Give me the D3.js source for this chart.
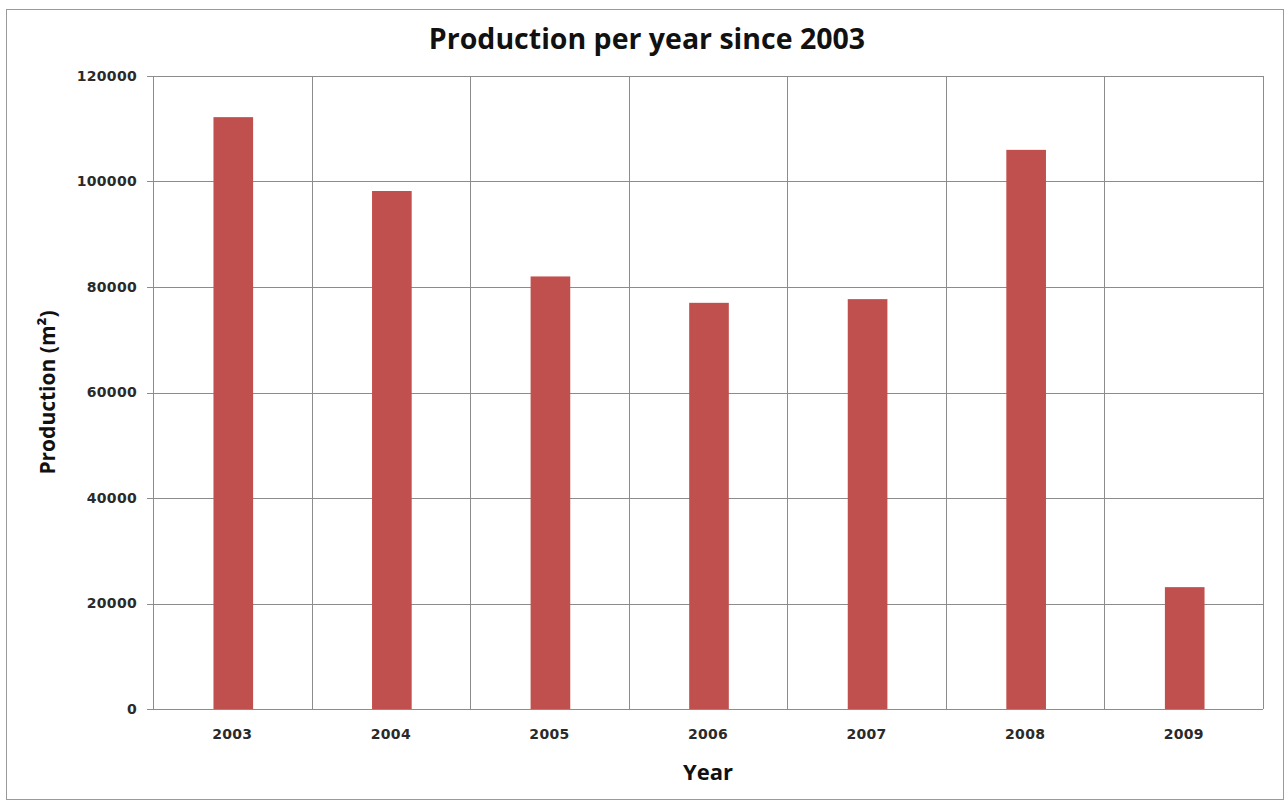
<!DOCTYPE html>
<html>
<head>
<meta charset="utf-8">
<script src="https://cdn.jsdelivr.net/npm/d3@7"></script>
<style>
  html, body { margin: 0; padding: 0; background: #fff; }
  svg { display: block; }
</style>
</head>
<body>
<div id="chart"></div>
<script>
// Annual production figures (m²)
const years = ["2003", "2004", "2005", "2006", "2007", "2008", "2009"];
const production = [112200, 98200, 82000, 77000, 77700, 106000, 23100];
const yTicks = [0, 20000, 40000, 60000, 80000, 100000, 120000];

const width = 1285, height = 801;
const margin = { top: 76, right: 22, bottom: 92, left: 153 };
const plotW = width - margin.left - margin.right;
const plotH = height - margin.top - margin.bottom;

const svg = d3.select("#chart").append("svg")
  .attr("width", width).attr("height", height);

// outer chart frame
svg.append("rect")
  .attr("x", 6.5).attr("y", 9.5)
  .attr("width", 1277).attr("height", 790)
  .attr("fill", "#fff").attr("stroke", "#9a9a9a").attr("stroke-width", 1);

const g = svg.append("g").attr("transform", `translate(${margin.left},${margin.top})`);

const x = d3.scaleBand().domain(years).range([0, plotW]).paddingInner(0).paddingOuter(0);
const y = d3.scaleLinear().domain([0, 120000]).range([plotH, 0]);

const gridColor = "#8c8c8c";

// horizontal gridlines
g.append("g").selectAll("line").data(yTicks).join("line")
  .attr("x1", -6).attr("x2", plotW)
  .attr("y1", d => Math.round(y(d)) + 0.5).attr("y2", d => Math.round(y(d)) + 0.5)
  .attr("stroke", gridColor).attr("stroke-width", 1);

// vertical gridlines at category boundaries
const bounds = years.map(d => x(d)).concat([plotW]);
g.append("g").selectAll("line").data(bounds).join("line")
  .attr("x1", d => Math.round(d) + 0.5).attr("x2", d => Math.round(d) + 0.5)
  .attr("y1", 0).attr("y2", plotH)
  .attr("stroke", gridColor).attr("stroke-width", 1);

// bars (width = 1/4 of the category band)
const barW = x.bandwidth() / 4;
g.append("g").selectAll("rect").data(years).join("rect")
  .attr("x", (d) => x(d) + x.bandwidth() / 2 - barW / 2 + 1)
  .attr("y", (d, i) => y(production[i]))
  .attr("width", barW)
  .attr("height", (d, i) => plotH - y(production[i]))
  .attr("fill", "#C0504D");

const tickFont = sel => sel
  .attr("font-family", "DejaVu Sans, Verdana, sans-serif")
  .attr("font-size", 14).attr("font-weight", "bold")
  .attr("letter-spacing", 0.3).attr("fill", "#2a2a2a");

// y axis labels
const yAxis = d3.axisLeft(y).tickValues(yTicks).tickSize(0).tickPadding(16).tickFormat(d3.format("d"));
const ya = g.append("g").call(yAxis);
ya.select(".domain").remove();
ya.selectAll("text").call(tickFont);

// x axis labels
const xAxis = d3.axisBottom(x).tickSize(0).tickPadding(20);
const xa = g.append("g").attr("transform", `translate(0,${plotH})`).call(xAxis);
xa.select(".domain").remove();
xa.selectAll("text").call(tickFont);

// title
svg.append("text")
  .attr("x", 647).attr("y", 49)
  .attr("text-anchor", "middle")
  .attr("font-family", "Open Sans, sans-serif").attr("font-weight", "bold")
  .attr("font-size", 28.5).attr("fill", "#111")
  .text("Production per year since 2003");

// axis titles
svg.append("text")
  .attr("x", margin.left + plotW / 2).attr("y", 780)
  .attr("text-anchor", "middle")
  .attr("font-family", "Open Sans, sans-serif").attr("font-weight", "bold")
  .attr("font-size", 22).attr("fill", "#111")
  .text("Year");

svg.append("text")
  .attr("transform", `translate(55,${margin.top + plotH / 2}) rotate(-90)`)
  .attr("text-anchor", "middle")
  .attr("font-family", "Open Sans, sans-serif").attr("font-weight", "bold")
  .attr("font-size", 21).attr("fill", "#111")
  .text("Production (m²)");
</script>
</body>
</html>
